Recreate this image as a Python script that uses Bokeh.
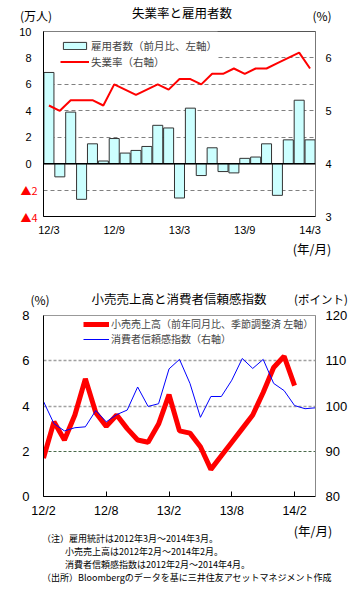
from bokeh.plotting import figure
from bokeh.models import (LinearAxis, Range1d, FixedTicker, Legend, LegendItem,
                          Span, BoxAnnotation, Grid, ColumnDataSource, Div)
from bokeh.layouts import column
from bokeh.embed import file_html
from bokeh.resources import INLINE

# ---------------- data: top chart ----------------
emp_months = ["12/3", "12/4", "12/5", "12/6", "12/7", "12/8", "12/9", "12/10", "12/11", "12/12",
              "13/1", "13/2", "13/3", "13/4", "13/5", "13/6", "13/7", "13/8", "13/9", "13/10",
              "13/11", "13/12", "14/1", "14/2", "14/3"]
emp_change = [6.9, -1.0, 3.9, -2.7, 1.5, 0.2, 1.9, 0.8, 1.0, 1.3,
              2.9, 2.7, -2.6, 4.2, -0.9, 1.2, -0.6, -0.7, 0.4, 0.5,
              1.5, -2.4, 1.8, 4.8, 1.8]
unemp_rate = [5.1, 5.0, 5.2, 5.2, 5.2, 5.1, 5.5, 5.4, 5.3, 5.4,
              5.5, 5.4, 5.6, 5.6, 5.5, 5.7, 5.7, 5.8, 5.7, 5.8,
              5.8, 5.9, 6.0, 6.1, 5.8]
top_left_ticks = [0, 2, 4, 6, 8, 10]
top_neg_ticks = [-2, -4]
top_neg_labels = ["▲2", "▲4"]
top_right_ticks = [3, 4, 5, 6]

# ---------------- data: bottom chart ----------------
retail_months = ["12/2", "12/3", "12/4", "12/5", "12/6", "12/7", "12/8", "12/9", "12/10", "12/11",
                 "12/12", "13/1", "13/2", "13/3", "13/4", "13/5", "13/6", "13/7", "13/8", "13/9",
                 "13/10", "13/11", "13/12", "14/1", "14/2"]
retail_sales = [1.7, 3.3, 2.5, 3.6, 5.2, 3.7, 3.1, 3.6, 3.0, 2.5,
                2.4, 3.2, 4.5, 2.9, 2.8, 2.2, 1.2, 1.8, 2.4, 3.0,
                3.6, 4.6, 5.7, 6.2, 4.9]
cci_months = retail_months + ["14/3", "14/4"]
cci = [101.0, 96.1, 94.5, 95.2, 95.4, 99.0, 96.5, 98.1, 99.1, 104.2,
       99.9, 100.5, 108.2, 110.3, 105.0, 97.5, 102.1, 102.1, 105.7, 110.5,
       108.3, 110.3, 105.0, 103.4, 100.1, 99.4, 99.6]
bot_left_ticks = [0, 2, 4, 6, 8]
bot_right_ticks = [80, 90, 100, 110, 120]

JP = "Noto Sans CJK JP"
NUM = "Liberation Sans"
W = 357


def text_strip(height, items):
    spans = []
    for (x, y, txt, size, anchor) in items:
        tx = "-50%" if anchor == "center" else "0"
        spans.append(
            f'<span style="position:absolute;left:{x}px;top:{y}px;transform:translate({tx},-50%);'
            f'white-space:nowrap;font-size:{size}px;line-height:1;color:#000;">{txt}</span>')
    html = (f'<div style="position:relative;width:{W}px;height:{height}px;'
            f'font-family:\'{JP}\';overflow:visible;">' + "".join(spans) + "</div>")
    return Div(text=html, width=W, height=height, margin=0)


def style_axis(ax, standoff, size, font=NUM):
    ax.major_label_text_font = font
    ax.major_label_text_font_size = size
    ax.major_label_text_color = "black"
    ax.major_tick_in = 0
    ax.major_tick_out = 0
    ax.minor_tick_line_color = None
    ax.major_label_standoff = standoff
    ax.axis_line_color = "black"


# ================= header strip (0-24) =================
div_a = text_strip(24, [
    (36, 16, "(万人)", 12, "center"),
    (182, 13, "失業率と雇用者数", 12.5, "center"),
    (322, 16, "(%)", 12, "center"),
])

# ================= top figure (24-238) =================
src1 = ColumnDataSource(dict(x=list(range(len(emp_months))), emp=emp_change, rate=unemp_rate))
p1 = figure(width=W, height=214, x_range=Range1d(-0.5, len(emp_months) - 0.5),
            y_range=Range1d(-4, 10), output_backend="svg", toolbar_location=None,
            min_border_left=41, min_border_right=42, min_border_top=7, min_border_bottom=22,
            y_axis_type=None, x_axis_type=None)
p1.extra_y_ranges = {"rate": Range1d(3, 6.5)}
p1.outline_line_color = "#555555"
p1.xgrid.visible = False

p1.add_layout(Grid(dimension=1, ticker=FixedTicker(ticks=[-2, 2, 4, 6, 8]), grid_line_color="#808080",
                   grid_line_dash="4 3", grid_line_width=1), "center")
p1.add_layout(BoxAnnotation(left=-0.5, right=15.5, bottom=7.5, top=10, fill_color="white",
                            fill_alpha=1, line_alpha=0, level="underlay"))

bars = p1.vbar(x="x", top="emp", bottom=0, width=0.92, fill_color="#CCFFFF",
               line_color="#333333", line_width=1, source=src1)
p1.add_layout(Span(location=0, dimension="width", line_color="black", line_width=1.5))
rline = p1.line(x="x", y="rate", y_range_name="rate", line_color="#FF0000", line_width=2, source=src1)

ax_l = LinearAxis(ticker=FixedTicker(ticks=top_left_ticks))
style_axis(ax_l, 12, "11px")
ax_neg = LinearAxis(ticker=FixedTicker(ticks=top_neg_ticks),
                    major_label_overrides=dict(zip(top_neg_ticks, top_neg_labels)))
style_axis(ax_neg, -21, "11px", font=JP)
ax_neg.major_label_text_color = "#FF0000"
ax_neg.axis_line_color = None
ax_r = LinearAxis(y_range_name="rate", ticker=FixedTicker(ticks=top_right_ticks))
style_axis(ax_r, 10, "11px")
ax_r.axis_line_color = "#777777"
ax_b = LinearAxis(ticker=FixedTicker(ticks=list(range(0, len(emp_months), 6))),
                  major_label_overrides={i: emp_months[i] for i in range(0, len(emp_months), 6)})
style_axis(ax_b, 7, "11px")
p1.add_layout(ax_l, "left")
p1.add_layout(ax_neg, "left")
p1.add_layout(ax_r, "right")
p1.add_layout(ax_b, "below")

leg1 = Legend(items=[LegendItem(label="雇用者数（前月比、左軸）", renderers=[bars]),
                     LegendItem(label="失業率（右軸）", renderers=[rline])],
              location=(17, 147), padding=0, margin=0, spacing=0, glyph_width=29, glyph_height=9,
              label_height=16, label_standoff=2, label_text_font=JP, label_text_font_size="10.5px",
              background_fill_alpha=0, border_line_alpha=0)
p1.add_layout(leg1)

# ================= middle strip (238-307) =================
div_b = text_strip(69, [
    (312, 11, "(年/月)", 12.5, "center"),
    (40, 62, "(%)", 12, "center"),
    (179, 61, "小売売上高と消費者信頼感指数", 12.5, "center"),
    (321, 62, "(ポイント)", 11.5, "center"),
])

# ================= bottom figure (307-520) =================
src_r = ColumnDataSource(dict(x=list(range(len(retail_months))), v=retail_sales))
src_c = ColumnDataSource(dict(x=list(range(len(cci_months))), v=cci))
p2 = figure(width=W, height=213, x_range=Range1d(0, len(cci_months) - 1),
            y_range=Range1d(0, 8), output_backend="svg", toolbar_location=None,
            min_border_left=43, min_border_right=42, min_border_top=8, min_border_bottom=22,
            y_axis_type=None, x_axis_type=None)
p2.extra_y_ranges = {"cci": Range1d(80, 120)}
p2.outline_line_color = "#999999"
p2.xgrid.visible = False
p2.add_layout(Grid(dimension=1, ticker=FixedTicker(ticks=[4, 6]), grid_line_color="#A0A0A0",
                   grid_line_dash="3 2", grid_line_width=1.5), "center")
p2.add_layout(Grid(dimension=1, ticker=FixedTicker(ticks=[2]), grid_line_color="#4A6A4A",
                   grid_line_dash="3 2", grid_line_width=1), "center")

r_ret = p2.line(x="x", y="v", line_color="#FF0000", line_width=5, source=src_r)
r_cci = p2.line(x="x", y="v", y_range_name="cci", line_color="#0000FF", line_width=1, source=src_c)

bx_l = LinearAxis(ticker=FixedTicker(ticks=bot_left_ticks))
style_axis(bx_l, 14, "13px")
bx_r = LinearAxis(y_range_name="cci", ticker=FixedTicker(ticks=bot_right_ticks))
style_axis(bx_r, 10, "13px")
bx_r.axis_line_color = "#888888"
bx_b = LinearAxis(ticker=FixedTicker(ticks=list(range(0, len(retail_months), 6))),
                  major_label_overrides={i: retail_months[i] for i in range(0, len(retail_months), 6)})
style_axis(bx_b, 7, "12.5px")
bx_b.major_tick_in = 5
p2.add_layout(bx_l, "left")
p2.add_layout(bx_r, "right")
p2.add_layout(bx_b, "below")

leg2 = Legend(items=[LegendItem(label="小売売上高（前年同月比、季節調整済 左軸）", renderers=[r_ret]),
                     LegendItem(label="消費者信頼感指数（右軸）", renderers=[r_cci])],
              location=(40, 150), padding=0, margin=0, spacing=0, glyph_width=26, glyph_height=14,
              label_height=14, label_standoff=2, label_text_font=JP, label_text_font_size="10px",
              background_fill_alpha=0, border_line_alpha=0)
p2.add_layout(leg2)

# ================= notes strip (520-589) =================
div_c = text_strip(69, [
    (313, 11, "(年/月)", 12.5, "center"),
    (42, 18, "（注）雇用統計は2012年3月～2014年3月。", 9, "left"),
    (65, 31, "小売売上高は2012年2月～2014年2月。", 9, "left"),
    (65, 44, "消費者信頼感指数は2012年2月～2014年4月。", 9, "left"),
    (42, 57, "（出所）Bloombergのデータを基に三井住友アセットマネジメント作成", 9, "left"),
])

layout = column(div_a, p1, div_b, p2, div_c, spacing=0)
open("out.html", "w").write(file_html(layout, INLINE))
